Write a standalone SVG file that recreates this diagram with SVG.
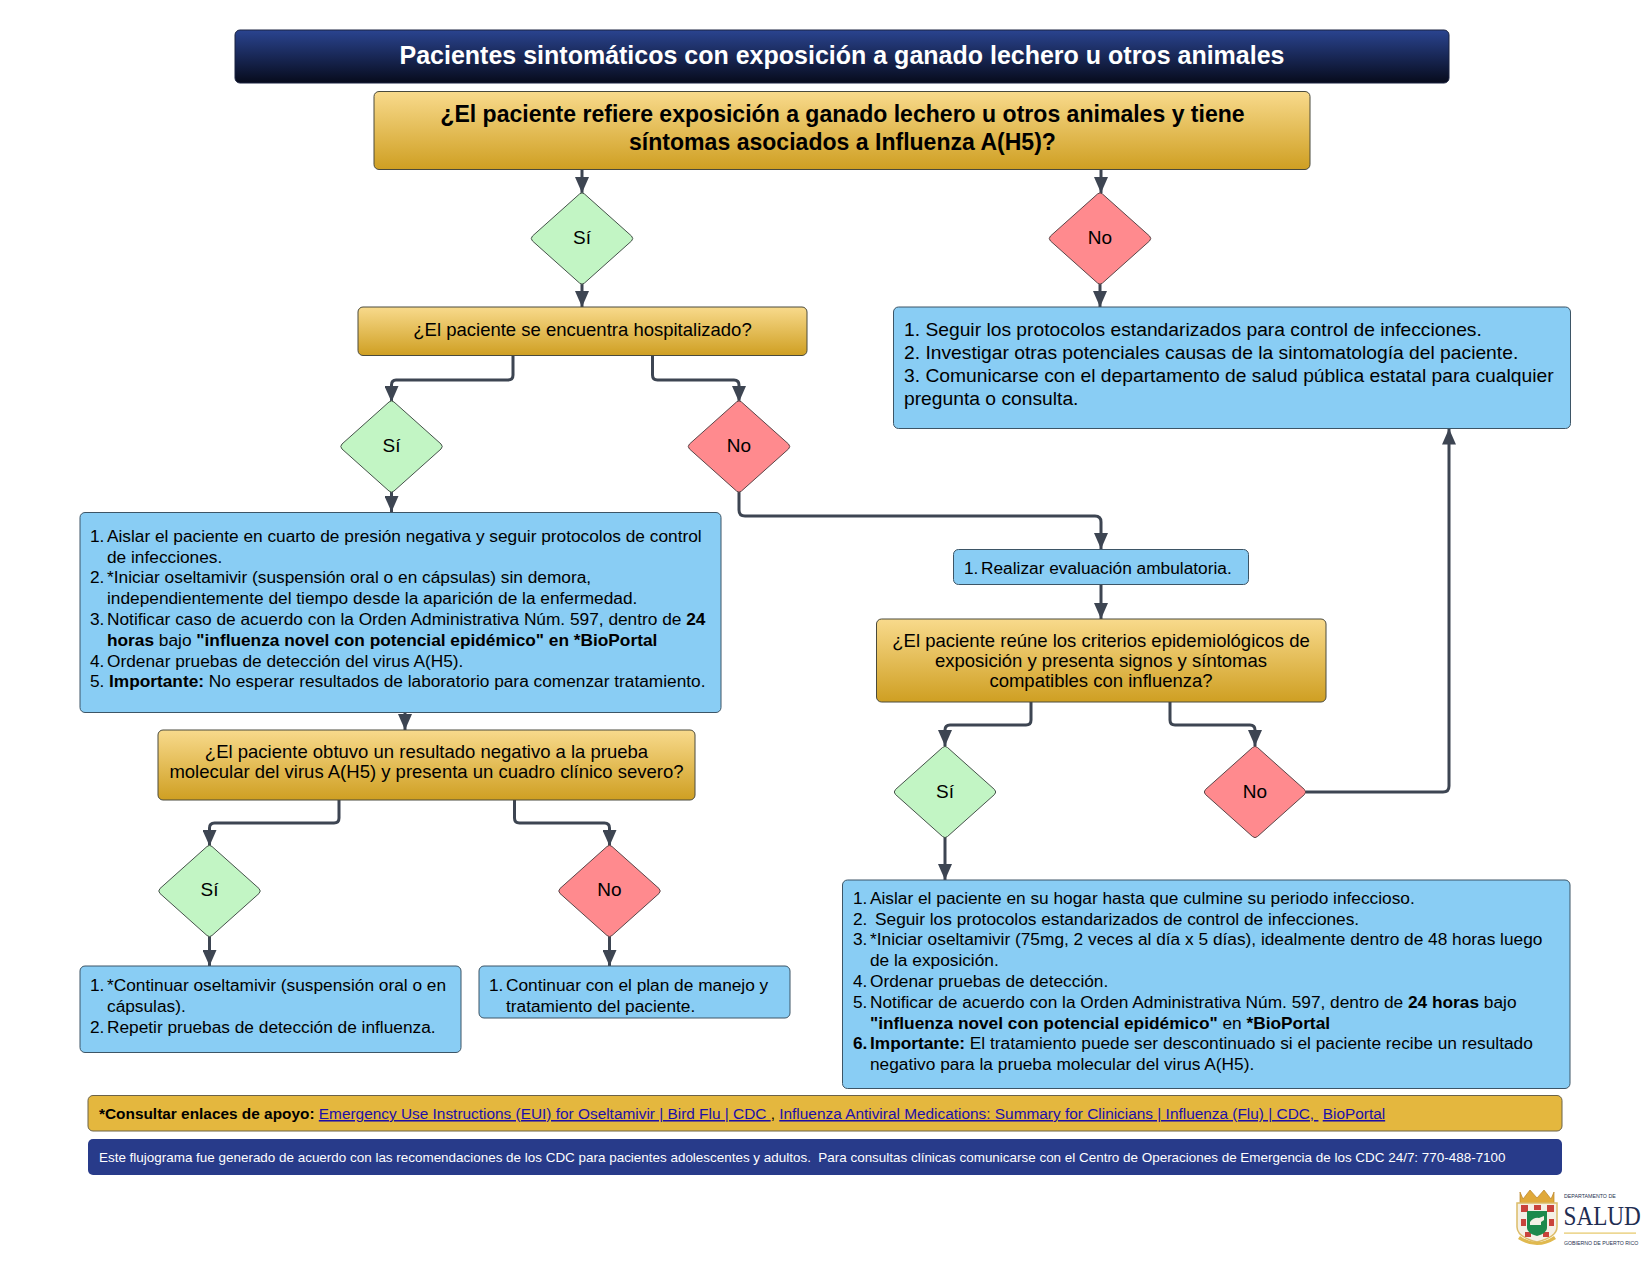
<svg xmlns="http://www.w3.org/2000/svg" width="1650" height="1275" viewBox="0 0 1650 1275">
<style>
text{font-family:"Liberation Sans",Arial,sans-serif;fill:#000;white-space:pre}
.b{font-weight:bold}
.t{font-size:17.3px}
.q{font-size:18.5px;text-anchor:middle}
.d{font-size:19px;text-anchor:middle}
.r{font-size:19.25px}
.gold{fill:url(#gold);stroke:#4a4a3c;stroke-width:1}
.blue{fill:#89cdf4;stroke:#3d5566;stroke-width:1}
.yes{fill:#c2f5c4;stroke:#45524a;stroke-width:1}
.no{fill:#ff8a8e;stroke:#5a4548;stroke-width:1}
.c{fill:none;stroke:#3d4552;stroke-width:3}
.a{fill:#1d0fa8;text-decoration:underline}
.f{font-size:15.4px}
</style>
<defs>
<linearGradient id="gold" x1="0" y1="0" x2="0" y2="1"><stop offset="0" stop-color="#f8da8c"/><stop offset="1" stop-color="#cf9f22"/></linearGradient>
<linearGradient id="navy" x1="0" y1="0" x2="0" y2="1"><stop offset="0" stop-color="#2a4490"/><stop offset="1" stop-color="#070b1c"/></linearGradient>
<marker id="ah" markerUnits="userSpaceOnUse" markerWidth="16" markerHeight="14" refX="16" refY="7" orient="auto"><path d="M0,0 L16,7 L0,14 Z" fill="#3d4552"/></marker>
<path id="dm" d="M-2.500,-44.500Q0,-46.800 2.500,-44.500L49.500,-2.500Q52,0 49.500,2.500L2.500,44.500Q0,46.800 -2.500,44.500L-49.500,2.500Q-52,0 -49.500,-2.500Z"/>
</defs>
<rect width="1650" height="1275" fill="#fff"/>

<g id="connectors">
<path class="c" marker-end="url(#ah)" d="M582,170V193"/>
<path class="c" marker-end="url(#ah)" d="M1101,170V193"/>
<path class="c" marker-end="url(#ah)" d="M582,284V307"/>
<path class="c" marker-end="url(#ah)" d="M1100,284V307"/>
<path class="c" marker-end="url(#ah)" d="M513,356V375Q513,380 508,380H396Q391.500,380 391.500,385V402"/>
<path class="c" marker-end="url(#ah)" d="M652.500,356V375Q652.500,380 657.500,380H734Q739,380 739,385V402"/>
<path class="c" marker-end="url(#ah)" d="M391.500,492V512"/>
<path class="c" marker-end="url(#ah)" d="M739,492V510Q739,516 745,516H1095Q1101,516 1101,522V549"/>
<path class="c" marker-end="url(#ah)" d="M1101,584V619"/>
<path class="c" marker-end="url(#ah)" d="M405,712V730"/>
<path class="c" marker-end="url(#ah)" d="M339,800V818Q339,823 334,823H214.500Q209.500,823 209.500,828V846"/>
<path class="c" marker-end="url(#ah)" d="M514.500,800V818Q514.500,823 519.500,823H604.500Q609.500,823 609.500,828V846"/>
<path class="c" marker-end="url(#ah)" d="M209.500,936V966"/>
<path class="c" marker-end="url(#ah)" d="M609.500,936V966"/>
<path class="c" marker-end="url(#ah)" d="M1031,702V720Q1031,725 1026,725H950Q945,725 945,730V746"/>
<path class="c" marker-end="url(#ah)" d="M1170,702V720Q1170,725 1175,725H1250Q1255,725 1255,730V746"/>
<path class="c" marker-end="url(#ah)" d="M945,836V880"/>
<path class="c" marker-end="url(#ah)" d="M1306,792H1443Q1449,792 1449,786V428.500"/>
</g>

<g id="title"><rect x="235" y="30" width="1214" height="53" rx="5" fill="url(#navy)" stroke="#1a2240"/>
<text x="842" y="63.500" text-anchor="middle" class="b" style="font-size:25px;fill:#fff">Pacientes sintomáticos con exposición a ganado lechero u otros animales</text></g>

<g id="q1"><rect class="gold" x="374" y="91.500" width="936" height="78" rx="5"/>
<text x="842.500" y="122" text-anchor="middle" class="b" style="font-size:23.050px">¿El paciente refiere exposición a ganado lechero u otros animales y tiene</text>
<text x="842.500" y="150" text-anchor="middle" class="b" style="font-size:23.050px">síntomas asociados a Influenza A(H5)?</text></g>

<g id="d-si1"><use href="#dm" class="yes" x="582" y="238.500"/><text class="d" x="582" y="244">Sí</text></g>
<g id="d-no1"><use href="#dm" class="no" x="1100" y="238.500"/><text class="d" x="1100" y="244">No</text></g>

<g id="q2"><rect class="gold" x="358" y="307" width="449" height="48.500" rx="5"/><text class="q" x="582.500" y="336">¿El paciente se encuentra hospitalizado?</text></g>

<g id="r1"><rect class="blue" x="893.500" y="307" width="677" height="121.500" rx="5"/>
<text class="r" x="904" y="336">1. Seguir los protocolos estandarizados para control de infecciones.</text>
<text class="r" x="904" y="359">2. Investigar otras potenciales causas de la sintomatología del paciente.</text>
<text class="r" x="904" y="382">3. Comunicarse con el departamento de salud pública estatal para cualquier</text>
<text class="r" x="904" y="405">pregunta o consulta.</text></g>

<g id="d-si2"><use href="#dm" class="yes" x="391.500" y="446.500"/><text class="d" x="391.500" y="452">Sí</text></g>
<g id="d-no2"><use href="#dm" class="no" x="739" y="446.500"/><text class="d" x="739" y="452">No</text></g>

<g id="l1"><rect class="blue" x="80" y="512.500" width="641" height="200" rx="5"/>
<text class="t" x="90" y="541.500">1.</text><text class="t" x="107" y="541.500">Aislar el paciente en cuarto de presión negativa y seguir protocolos de control</text>
<text class="t" x="107" y="562.500">de infecciones.</text>
<text class="t" x="90" y="583.300">2.</text><text class="t" x="107" y="583.300">*Iniciar oseltamivir (suspensión oral o en cápsulas) sin demora,</text>
<text class="t" x="107" y="604.100">independientemente del tiempo desde la aparición de la enfermedad.</text>
<text class="t" x="90" y="624.900">3.</text><text class="t" x="107" y="624.900">Notificar caso de acuerdo con la Orden Administrativa Núm. 597, dentro de <tspan class="b">24</tspan></text>
<text class="t" x="107" y="645.700"><tspan class="b">horas</tspan> bajo <tspan class="b">"influenza novel con potencial epidémico" en *BioPortal</tspan></text>
<text class="t" x="90" y="666.500">4.</text><text class="t" x="107" y="666.500">Ordenar pruebas de detección del virus A(H5).</text>
<text class="t" x="90" y="687.300">5.</text><text class="t" x="109" y="687.300"><tspan class="b">Importante:</tspan> No esperar resultados de laboratorio para comenzar tratamiento.</text></g>

<g id="q3"><rect class="gold" x="158" y="730" width="537" height="70" rx="5"/>
<text class="q" x="426.500" y="758">¿El paciente obtuvo un resultado negativo a la prueba</text>
<text class="q" x="426.500" y="778">molecular del virus A(H5) y presenta un cuadro clínico severo?</text></g>

<g id="d-si4"><use href="#dm" class="yes" x="209.500" y="891"/><text class="d" x="209.500" y="896">Sí</text></g>
<g id="d-no4"><use href="#dm" class="no" x="609.500" y="891"/><text class="d" x="609.500" y="896">No</text></g>

<g id="l4"><rect class="blue" x="80" y="966" width="381" height="86.500" rx="5"/>
<text class="t" x="90" y="990.500">1.</text><text class="t" x="107" y="990.500">*Continuar oseltamivir (suspensión oral o en</text>
<text class="t" x="107" y="1011.500">cápsulas).</text>
<text class="t" x="90" y="1032.500">2.</text><text class="t" x="107" y="1032.500">Repetir pruebas de detección de influenza.</text></g>

<g id="n4"><rect class="blue" x="479" y="966" width="311" height="52" rx="5"/>
<text class="t" x="489" y="990.500">1.</text><text class="t" x="506" y="990.500">Continuar con el plan de manejo y</text>
<text class="t" x="506" y="1011.500">tratamiento del paciente.</text></g>

<g id="s1"><rect class="blue" x="953.500" y="549.500" width="295" height="35" rx="5"/>
<text class="t" x="964" y="574">1.</text><text class="t" x="981" y="574">Realizar evaluación ambulatoria.</text></g>

<g id="q4"><rect class="gold" x="876.500" y="619" width="449.500" height="83" rx="5"/>
<text class="q" x="1101" y="646.500">¿El paciente reúne los criterios epidemiológicos de</text>
<text class="q" x="1101" y="666.500">exposición y presenta signos y síntomas</text>
<text class="q" x="1101" y="686.500">compatibles con influenza?</text></g>

<g id="d-si3"><use href="#dm" class="yes" x="945" y="792"/><text class="d" x="945" y="797.500">Sí</text></g>
<g id="d-no3"><use href="#dm" class="no" x="1255" y="792"/><text class="d" x="1255" y="797.500">No</text></g>

<g id="r3"><rect class="blue" x="842.500" y="880" width="727.500" height="208.500" rx="5"/>
<text class="t" x="853" y="903.800">1.</text><text class="t" x="870" y="903.800">Aislar el paciente en su hogar hasta que culmine su periodo infeccioso.</text>
<text class="t" x="853" y="924.600">2.</text><text class="t" x="875" y="924.600">Seguir los protocolos estandarizados de control de infecciones.</text>
<text class="t" x="853" y="945.400">3.</text><text class="t" x="870" y="945.400">*Iniciar oseltamivir (75mg, 2 veces al día x 5 días), idealmente dentro de 48 horas luego</text>
<text class="t" x="870" y="966.200">de la exposición.</text>
<text class="t" x="853" y="987">4.</text><text class="t" x="870" y="987">Ordenar pruebas de detección.</text>
<text class="t" x="853" y="1007.800">5.</text><text class="t" x="870" y="1007.800">Notificar de acuerdo con la Orden Administrativa Núm. 597, dentro de <tspan class="b">24 horas</tspan> bajo</text>
<text class="t" x="870" y="1028.600"><tspan class="b">"influenza novel con potencial epidémico"</tspan> en <tspan class="b">*BioPortal</tspan></text>
<text class="t b" x="853" y="1049.400">6.</text><text class="t" x="870" y="1049.400"><tspan class="b">Importante:</tspan> El tratamiento puede ser descontinuado si el paciente recibe un resultado</text>
<text class="t" x="870" y="1070.200">negativo para la prueba molecular del virus A(H5).</text></g>

<g id="links"><rect x="88" y="1095.500" width="1474" height="35.500" rx="5" fill="#e4b73e" stroke="#6b6248"/>
<text class="f" x="99" y="1119"><tspan class="b">*Consultar enlaces de apoyo:</tspan> <tspan class="a">Emergency Use Instructions (EUI) for Oseltamivir | Bird Flu | CDC </tspan>, <tspan class="a">Influenza Antiviral Medications: Summary for Clinicians | Influenza (Flu) | CDC, </tspan> <tspan class="a">BioPortal</tspan></text></g>

<g id="note"><rect x="88" y="1139" width="1474" height="36" rx="5" fill="#283b8a"/>
<text x="99" y="1162" style="font-size:13.450px;fill:#fff">Este flujograma fue generado de acuerdo con las recomendaciones de los CDC para pacientes adolescentes y adultos.  Para consultas clínicas comunicarse con el Centro de Operaciones de Emergencia de los CDC 24/7: 770-488-7100</text></g>

<g id="logo">
<path d="M1520,1192l3,7 7,-9 7,8 7,-8 7,9 3,-7v11h-34z" fill="#e0a93a" stroke="#b9842a" stroke-width=".7"/>
<path d="M1517,1203h40v24q0,10 -20,15q-20,-5 -20,-15z" fill="#f5f0e6" stroke="#dcbc68" stroke-width="1.500"/>
<path d="M1521,1205h7v7h-7zM1534,1205h7v5h-7zM1547,1205h7v7h-7zM1521,1219h5v7h-5zM1549,1219h5v7h-5zM1525,1232h6v5h-6zM1543,1232h6v5h-6z" fill="#c9433b"/>
<path d="M1527,1211h20v17q0,5 -10,8q-10,-3 -10,-8z" fill="#1d8a4c"/>
<path d="M1530,1222q4,-5 9,-4l5,-2v4l-3,2v3h-11z" fill="#f4f1e6"/>
<path d="M1520,1236q17,12 34,0l2,3q-19,12 -38,0z" fill="#e0b94f"/>
<text transform="translate(1564,1198) scale(.88,1)" style="font-size:6px;fill:#26324f">DEPARTAMENTO DE</text>
<text transform="translate(1563.500,1225) scale(.86,1)" style="font-family:'Liberation Serif',serif;font-size:27px;fill:#1f2d52">SALUD</text>
<rect x="1564" y="1232.500" width="72" height="1.200" fill="#e6c766"/>
<text transform="translate(1564,1245) scale(.95,1)" style="font-size:5.500px;fill:#26324f">GOBIERNO DE PUERTO RICO</text>
</g>
</svg>
